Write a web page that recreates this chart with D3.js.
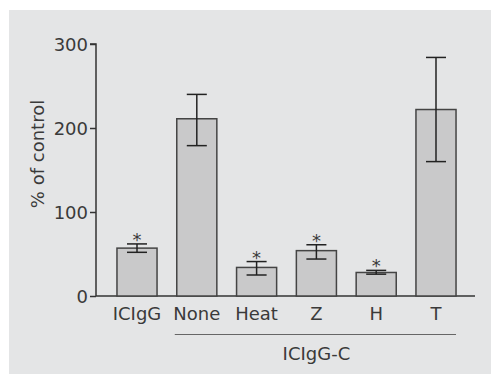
<!DOCTYPE html>
<html>
<head>
<style>
body { margin: 0; background: #fff; }
text { font-family: "DejaVu Sans", sans-serif; fill: #3a3a3a; }
</style>
</head>
<body>
<svg id="chart" width="491" height="374"></svg>
<script src="https://d3js.org/d3.v7.min.js"></script>
<script>
    // values (% of control, mean with error range)
    const groups = ["ICIgG", "None", "Heat", "Z", "H", "T"];
    const means = [57, 211, 34, 54, 28, 222];
    const errHigh = [62, 240, 41, 61, 30.5, 284];
    const errLow = [52, 179, 25, 44, 26, 160];
    const starred = [true, false, true, true, true, false];
    const yTicks = [0, 100, 200, 300];
    const bracketLabel = "ICIgG-C";

    const svg = d3.select("#chart");

    // grey panel behind everything
    svg.append("rect")
        .attr("x", 9).attr("y", 10)
        .attr("width", 482).attr("height", 364)
        .style("fill", "#e4e5e6");

    const y = d3.scaleLinear().domain([0, 300]).range([296, 44]);
    const x = d3.scaleBand().domain(groups).range([108, 465])
        .paddingInner(0.33).paddingOuter(0.15);

    // y axis
    const yAxis = svg.append("g")
        .attr("transform", "translate(96,0)")
        .call(d3.axisLeft(y).tickValues(yTicks).tickSize(6).tickPadding(2));
    yAxis.select(".domain").style("stroke", "#333").style("stroke-width", 1.5)
        .attr("d", "M-6," + y(300) + "H0V" + y(0));
    yAxis.selectAll(".tick line").style("stroke", "#333").style("stroke-width", 1.5);
    yAxis.selectAll(".tick text")
        .style("font-size", "18px")
        .style("font-family", "DejaVu Sans, sans-serif")
        .style("fill", "#3a3a3a")
        .attr("dy", "0.36em");

    // x baseline
    svg.append("line")
        .attr("x1", 96).attr("x2", 475)
        .attr("y1", y(0)).attr("y2", y(0))
        .style("stroke", "#333").style("stroke-width", 1.5);

    // bars
    svg.selectAll("rect.bar")
        .data(groups)
        .enter()
        .append("rect")
        .attr("class", "bar")
        .attr("x", d => x(d))
        .attr("width", x.bandwidth())
        .attr("y", (d, i) => y(means[i]))
        .attr("height", (d, i) => y(0) - y(means[i]))
        .style("fill", "#c9c9ca")
        .style("stroke", "#444")
        .style("stroke-width", 1.5);

    // error bars
    const cap = x.bandwidth() / 4;
    const err = svg.selectAll("g.err")
        .data(groups)
        .enter()
        .append("g")
        .attr("class", "err")
        .style("stroke", "#222")
        .style("stroke-width", 1.5);
    err.append("line")
        .attr("x1", d => x(d) + x.bandwidth() / 2)
        .attr("x2", d => x(d) + x.bandwidth() / 2)
        .attr("y1", (d, i) => y(errHigh[i]))
        .attr("y2", (d, i) => y(errLow[i]));
    err.append("line")
        .attr("x1", d => x(d) + x.bandwidth() / 2 - cap)
        .attr("x2", d => x(d) + x.bandwidth() / 2 + cap)
        .attr("y1", (d, i) => y(errHigh[i]))
        .attr("y2", (d, i) => y(errHigh[i]));
    err.append("line")
        .attr("x1", d => x(d) + x.bandwidth() / 2 - cap)
        .attr("x2", d => x(d) + x.bandwidth() / 2 + cap)
        .attr("y1", (d, i) => y(errLow[i]))
        .attr("y2", (d, i) => y(errLow[i]));

    // asterisks
    svg.selectAll("text.star")
        .data(groups.filter((d, i) => starred[i]))
        .enter()
        .append("text")
        .attr("class", "star")
        .attr("x", d => x(d) + x.bandwidth() / 2)
        .attr("y", d => y(errHigh[groups.indexOf(d)]) + 2)
        .attr("text-anchor", "middle")
        .style("font-size", "18px")
        .text("*");

    // category labels
    svg.selectAll("text.xlab")
        .data(groups)
        .enter()
        .append("text")
        .attr("class", "xlab")
        .attr("x", d => x(d) + x.bandwidth() / 2)
        .attr("y", 320)
        .attr("text-anchor", "middle")
        .style("font-size", "18px")
        .text(d => d);

    // bracket under ICIgG-C groups
    const sub = groups.slice(1);
    svg.append("line")
        .attr("x1", x(sub[0]) - 2)
        .attr("x2", x(sub[sub.length - 1]) + x.bandwidth())
        .attr("y1", 334.5).attr("y2", 334.5)
        .style("stroke", "#666").style("stroke-width", 1);
    svg.append("text")
        .attr("x", (x(sub[0]) + x(sub[sub.length - 1]) + x.bandwidth()) / 2)
        .attr("y", 360)
        .attr("text-anchor", "middle")
        .style("font-size", "18px")
        .text(bracketLabel);

    // y title
    svg.append("text")
        .attr("transform", "translate(44,154) rotate(-90)")
        .attr("text-anchor", "middle")
        .style("font-size", "18px")
        .text("% of control");
</script>
</body>
</html>
